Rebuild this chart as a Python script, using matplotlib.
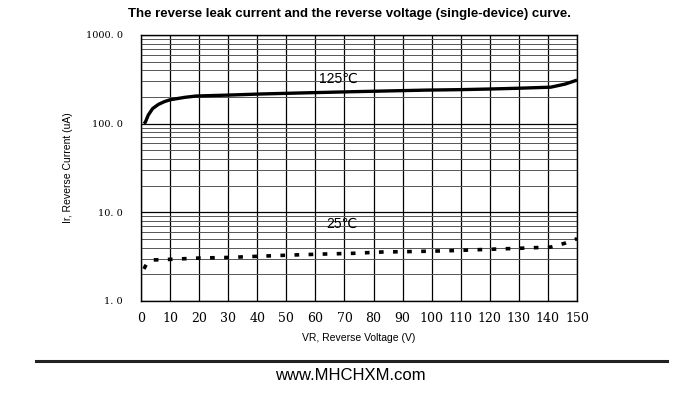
import numpy as np
import matplotlib
matplotlib.use('Agg')
import matplotlib.pyplot as plt
from matplotlib.lines import Line2D

# values
v_125 = [1, 1.5, 2.5, 4, 6, 8, 10, 15, 19, 30, 41, 55, 72, 85, 98, 110, 120, 130, 141, 146, 150]
ir_125 = [100, 104, 125, 148, 165, 177, 186, 198, 205, 210, 216, 222, 229, 234, 239, 242, 246, 251, 258, 280, 310]

v_25 = [1, 2, 4, 7, 10, 20, 30, 41, 52, 62, 73, 83, 95, 106, 120, 130, 141, 146, 150]
ir_25 = [2.3, 2.65, 2.9, 2.93, 2.95, 3.05, 3.1, 3.2, 3.3, 3.38, 3.45, 3.57, 3.62, 3.69, 3.83, 3.93, 4.06, 4.5, 5.04]

x_ticks = list(range(0, 151, 10))
y_ticks = [1, 10, 100, 1000]
y_labels = ["1. 0", "10. 0", "100. 0", "1000. 0"]

fig = plt.figure(figsize=(7, 4.07), dpi=100)
ax = fig.add_axes([141 / 700, 1 - 301 / 407, 436 / 700, 266 / 407])

ax.set_yscale("log")
ax.set_xlim(0, 150)
ax.set_ylim(1, 1000)

# grid: vertical every 10 V, log minors horizontally
for x in x_ticks:
    ax.axvline(x, color="black", lw=0.9, zorder=1)
for dec in [1, 10, 100]:
    for m in range(2, 10):
        ax.axhline(dec * m, color="#555555", lw=0.7, zorder=1)
for y in y_ticks:
    ax.axhline(y, color="black", lw=0.9, zorder=1)

ax.plot(v_125, ir_125, color="black", lw=2.4, zorder=3, solid_capstyle="butt")
ax.plot(v_25, ir_25, color="black", lw=2.6, linestyle=(0, (1.3, 2.6)), zorder=3)

txt_family = ["Liberation Sans", "DejaVu Sans"]
ax.text(68, 320, "125℃", fontsize=10, ha="center", va="center", family=txt_family)
ax.text(69, 7.4, "25℃", fontsize=10, ha="center", va="center", family=txt_family)

ax.set_xticks(x_ticks)
ax.set_xticklabels([str(x) for x in x_ticks], family="DejaVu Serif", fontsize=9)
ax.set_yticks(y_ticks)
ax.set_yticklabels(y_labels, family="DejaVu Serif", fontsize=7)
ax.yaxis.set_minor_locator(matplotlib.ticker.NullLocator())
ax.tick_params(length=0, pad=8)
ax.tick_params(axis="y", pad=13)
for s in ax.spines.values():
    s.set_linewidth(1.0)

ax.set_xlabel("VR, Reverse Voltage (V)", family="Liberation Sans", fontsize=7.5, labelpad=6)
ax.set_ylabel("Ir, Reverse Current (uA)", family="Liberation Sans", fontsize=7.5, labelpad=9)

fig.text(0.5, 1 - 14 / 407, "The reverse leak current and the reverse voltage (single-device) curve.",
         ha="center", va="center", fontsize=9.5, fontweight="bold", family="Liberation Sans")

fig.add_artist(Line2D([36 / 700, 667 / 700], [1 - 361 / 407] * 2, color="#222222", lw=2.2))
fig.text(0.5, 1 - 376 / 407, "www.MHCHXM.com", ha="center", va="center",
         fontsize=12, family="Liberation Sans")

fig.savefig("out.png", dpi=100)
